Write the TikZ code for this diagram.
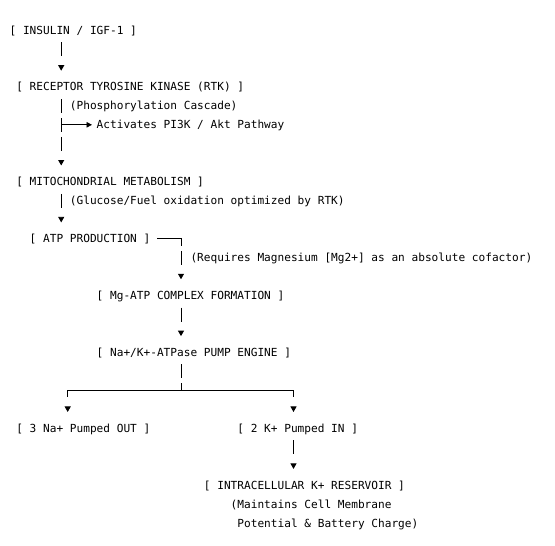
\documentclass[tikz,border=0pt]{standalone}
\usepackage{fontspec}
\setmonofont{DejaVu Sans Mono}
\usetikzlibrary{arrows.meta}
\begin{document}
\begin{tikzpicture}[x=1pt,y=-1pt,
  txt/.style={font=\fontsize{11.13}{13}\selectfont\ttfamily, inner sep=0pt, anchor=west,
              text height=13.53pt, text depth=5.43pt},
  link/.style={draw=black, line width=0.85pt},
  tip/.style={-{Triangle[width=6pt,length=5.5pt]}},
  vconn/.style={link, tip, shorten <=2.48pt, shorten >=6.5pt},
]
\useasboundingbox (0,0) rectangle (555,546);

% text nodes
\node[txt] (ins)   at (9.4,30)      {[ INSULIN / IGF-1 ]};
\node[txt] (rtk)   at (16.1,86.88)  {[ RECEPTOR TYROSINE KINASE (RTK) ]};
\node[txt] (phos)  at (69.7,105.84) {(Phosphorylation Cascade)};
\node[txt] (akt)   at (96.5,124.80) {Activates PI3K / Akt Pathway};
\node[txt] (mito)  at (16.1,181.68) {[ MITOCHONDRIAL METABOLISM ]};
\node[txt] (gluc)  at (69.7,200.64) {(Glucose/Fuel oxidation optimized by RTK)};
\node[txt] (atp)   at (29.5,238.56) {[ ATP PRODUCTION ]};
\node[txt] (mgreq) at (190.3,257.52) {(Requires Magnesium [Mg2+] as an absolute cofactor)};
\node[txt] (mgatp) at (96.5,295.44) {[ Mg-ATP COMPLEX FORMATION ]};
\node[txt] (pump)  at (96.5,352.32) {[ Na+/K+-ATPase PUMP ENGINE ]};
\node[txt] (naout) at (16.1,428.16) {[ 3 Na+ Pumped OUT ]};
\node[txt] (kin)   at (237.2,428.16) {[ 2 K+ Pumped IN ]};
\node[txt] (res)   at (203.7,485.04) {[ INTRACELLULAR K+ RESERVOIR ]};
\node[txt] (note1) at (230.5,504.00) {(Maintains Cell Membrane};
\node[txt] (note2) at (237.2,522.96) {Potential \& Battery Charge)};

% column guides
\coordinate (cA) at (61.2,0);
\coordinate (cB) at (181,0);
\coordinate (cL) at (67.7,0);
\coordinate (cR) at (293.5,0);
\coordinate (br) at (61.2,124.80);
\coordinate (split) at (181,390.24);

% connectors
\draw[vconn, dash pattern=on 14pt off 30pt] (ins.south -| cA) -- (rtk.north -| cA);
\draw[vconn, dash pattern=on 14pt off 4.96pt on 14pt off 4.96pt on 14pt off 30pt]
  (rtk.south -| cA) -- (mito.north -| cA);
\draw[link, -{Triangle[width=5.5pt,length=5.5pt]}, shorten >=4.5pt] (br) -- (akt.west);
\draw[vconn, dash pattern=on 14pt off 30pt] (mito.south -| cA) -- (atp.north -| cA);
\draw[link, tip, shorten <=6.7pt, shorten >=6.5pt,
      dash pattern=on 31.2pt off 4.96pt on 14pt off 40pt]
  (atp.east) -- (atp.east -| cB) -- (mgatp.north -| cB);
\draw[vconn, dash pattern=on 14pt off 30pt] (mgatp.south -| cB) -- (pump.north -| cB);
\draw[vconn, dash pattern=on 14pt off 4.96pt on 127.3pt off 40pt]
  (pump.south -| cB) -- (split) -- (split -| cL) -- (naout.north -| cL);
\draw[vconn, dash pattern=on 14pt off 4.96pt on 126.5pt off 40pt]
  (pump.south -| cB) -- (split) -- (split -| cR) -- (kin.north -| cR);
\draw[vconn, dash pattern=on 14pt off 30pt] (kin.south -| cR) -- (res.north -| cR);
\end{tikzpicture}
\end{document}
